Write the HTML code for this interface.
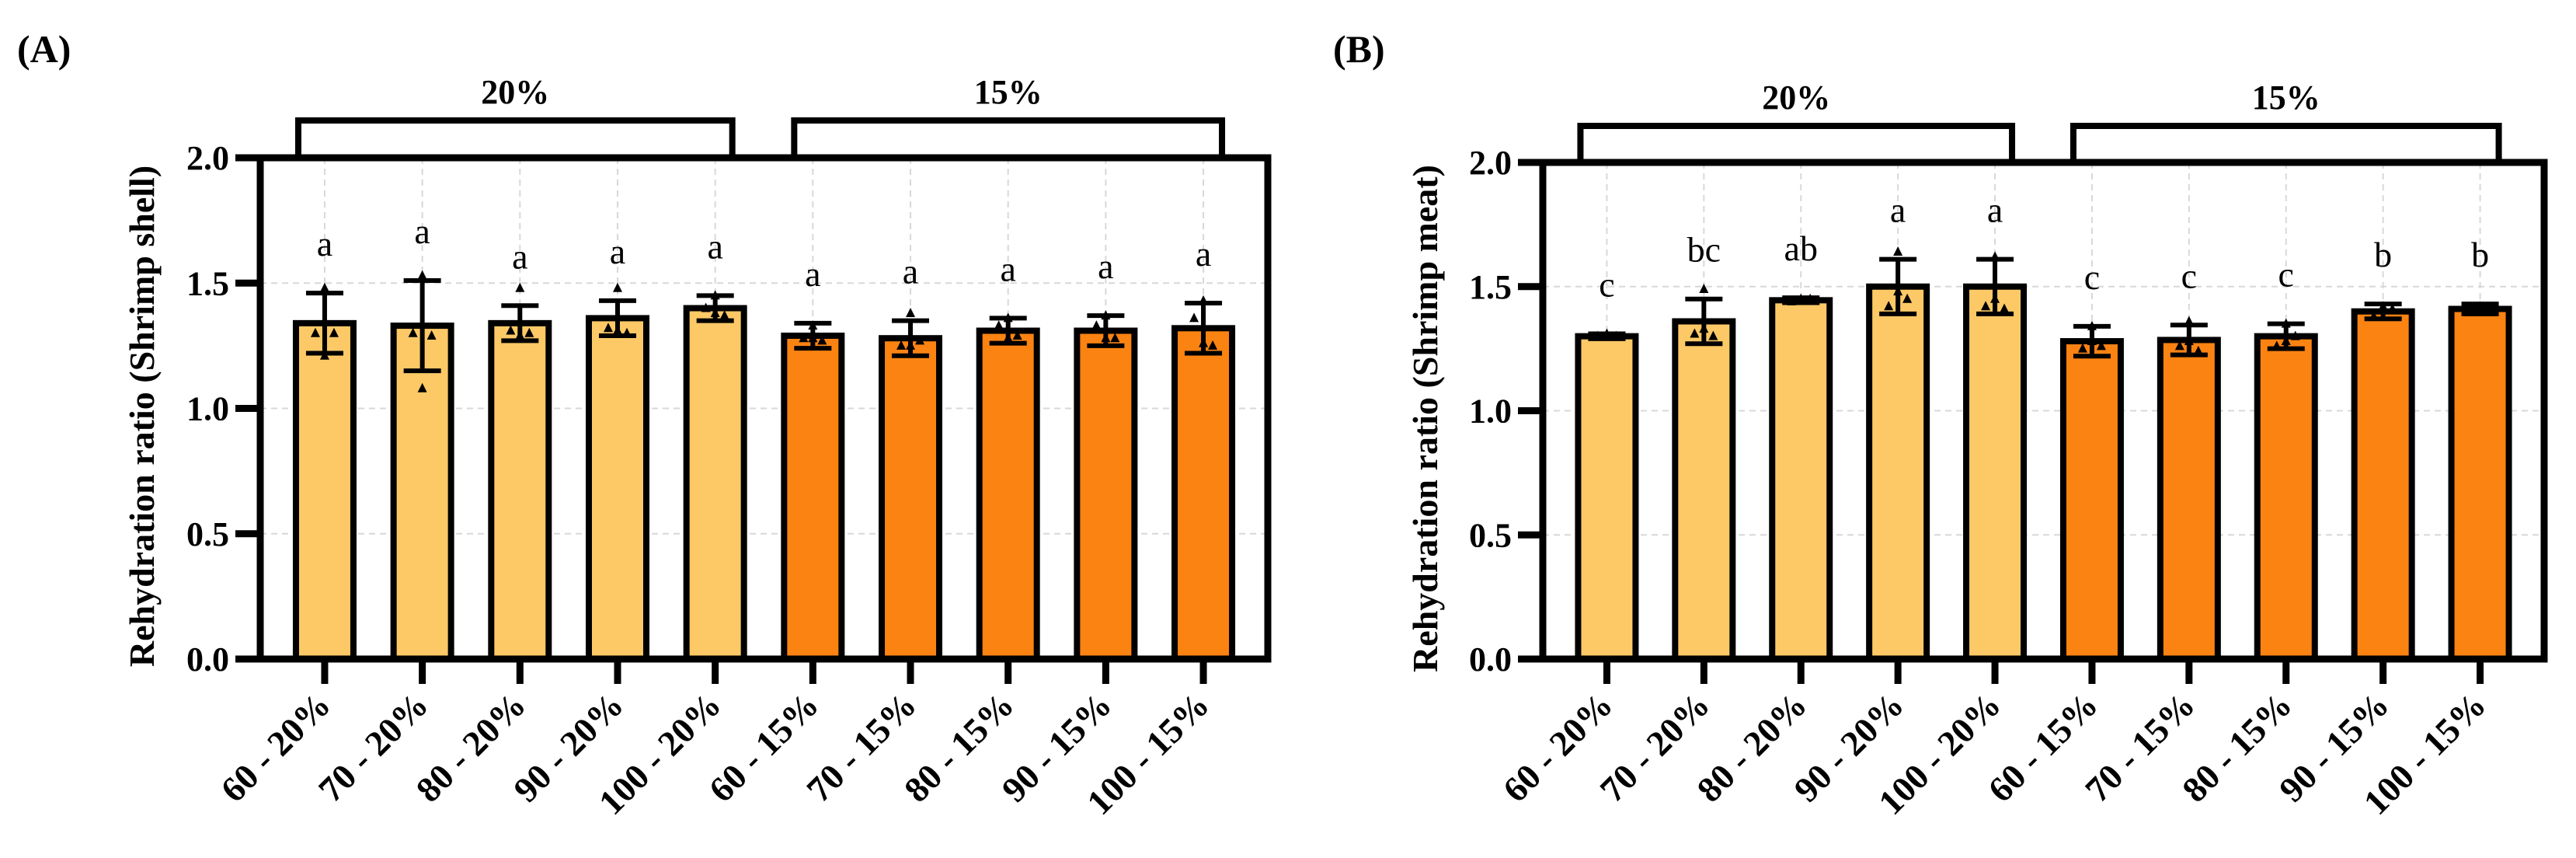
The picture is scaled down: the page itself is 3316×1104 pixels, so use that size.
<!DOCTYPE html>
<html><head><meta charset="utf-8">
<style>
html,body{margin:0;padding:0;background:#fff;}
svg{display:block;font-family:"Liberation Serif",serif;}
</style></head>
<body>
<svg id="fig" width="3316" height="1104" viewBox="0 0 3316 1104" xmlns="http://www.w3.org/2000/svg"></svg>
<script>
const categories = ["60 - 20%","70 - 20%","80 - 20%","90 - 20%","100 - 20%","60 - 15%","70 - 15%","80 - 15%","90 - 15%","100 - 15%"];
const groupLabels = ["20%","15%"];
const yTicks = [0,0.5,1.0,1.5,2.0];
const yTickLabels = ["0.0","0.5","1.0","1.5","2.0"];
const shellMeans = [1.34,1.33,1.34,1.36,1.40,1.29,1.28,1.31,1.31,1.32];
const shellSD = [0.12,0.18,0.07,0.07,0.05,0.05,0.07,0.05,0.06,0.10];
const shellLetters = ["a","a","a","a","a","a","a","a","a","a"];
const shellPoints = [[1.48,1.30,1.30,1.21],[1.53,1.30,1.29,1.08],[1.48,1.31,1.30,1.29],[1.48,1.32,1.30,1.31],[1.45,1.40,1.37,1.38],[1.33,1.28,1.27,1.28],[1.38,1.25,1.27,1.25],[1.36,1.33,1.29,1.28],[1.37,1.33,1.28,1.28],[1.43,1.36,1.25,1.26]];
const meatMeans = [1.30,1.36,1.445,1.50,1.50,1.28,1.285,1.30,1.40,1.41];
const meatSD = [0.01,0.09,0.01,0.11,0.11,0.06,0.06,0.05,0.03,0.02];
const meatLetters = ["c","bc","ab","a","a","c","c","c","b","b"];
const meatPoints = [[1.31,1.30,1.30],[1.49,1.31,1.30,1.33],[1.45,1.44,1.45],[1.64,1.42,1.45,1.48],[1.62,1.42,1.41,1.45],[1.34,1.25,1.26,1.28],[1.36,1.26,1.24,1.28],[1.35,1.26,1.30,1.28],[1.42,1.38,1.41,1.41],[1.42,1.41,1.41]];

const NS="http://www.w3.org/2000/svg";
const svg=document.getElementById("fig");
function mk(tag,attrs,parent,text){
  const e=document.createElementNS(NS,tag);
  for(const k in attrs)e.setAttribute(k,attrs[k]);
  if(text!==undefined)e.textContent=text;
  (parent||svg).appendChild(e);return e;
}
function panel(cfg){
  const g=mk("g",{});
  
  
  const n=categories.length;
  const w=cfg.x1-cfg.x0, step=w/(n+0.32);
  const xC=i=>cfg.x0+(i+0.66)*step;
  const yS=v=>cfg.yZero-(cfg.yZero-cfg.yTop)*v/2;
  const pl=mk("text",{x:cfg.labelX,y:80,"font-size":50,"font-weight":"bold"},g,cfg.letter);
  
  
  yTicks.forEach(t=>{ if(t>0&&t<2){
    const l=mk("line",{x1:cfg.x0,x2:cfg.x1,y1:yS(t),y2:yS(t),stroke:"#d8d8d8","stroke-width":2,"stroke-dasharray":"8 6"},g);
    
    
  }});
  for(let i=0;i<n;i++){
    const l=mk("line",{x1:xC(i),x2:xC(i),y1:cfg.yTop,y2:cfg.yZero,stroke:"#d8d8d8","stroke-width":2,"stroke-dasharray":"8 6"},g);
    
    
  }
  const bw=74;
  for(let i=0;i<n;i++){
    const v=cfg.means[i];
    const r=mk("rect",{x:xC(i)-bw/2,y:yS(v),width:bw,height:cfg.yZero-yS(v),fill:i<5?"#FCC966":"#FB8312",stroke:"#000","stroke-width":8},g);
    
    
    cfg.points[i].forEach((p,k)=>{
      const px=xC(i)+[-0,-12,12,0][k%4]*(k>0?1:0), py=yS(p);
      const t=mk("path",{d:`M${px-6},${py+5} L${px+6},${py+5} L${px},${py-7} Z`,fill:"#000"},g);
      
      
    });
    const top=yS(v+cfg.sd[i]), bot=yS(v-cfg.sd[i]);
    const e=mk("path",{d:`M${xC(i)},${top} L${xC(i)},${bot} M${xC(i)-24},${top} L${xC(i)+24},${top} M${xC(i)-24},${bot} L${xC(i)+24},${bot}`,stroke:"#000","stroke-width":6,fill:"none"},g);
    
    
    const lt=mk("text",{x:xC(i),y:top-48,"font-size":46,"text-anchor":"middle"},g,cfg.letters[i]);
    
    
  }
  const f=mk("path",{d:`M${cfg.x0},${cfg.yTop} L${cfg.x1},${cfg.yTop} L${cfg.x1},${cfg.yZero} L${cfg.x0},${cfg.yZero} Z`,fill:"none",stroke:"#000","stroke-width":9},g);
  
  
  yTicks.forEach((t,k)=>{
    const l=mk("line",{x1:cfg.x0-32,x2:cfg.x0,y1:yS(t),y2:yS(t),stroke:"#000","stroke-width":9},g);
    
    
    const tx=mk("text",{x:cfg.x0-40,y:yS(t)+15,"font-size":44,"font-weight":"bold","text-anchor":"end"},g,yTickLabels[k]);
    
    
  });
  for(let i=0;i<n;i++){
    const l=mk("line",{x1:xC(i),x2:xC(i),y1:cfg.yZero,y2:cfg.yZero+32,stroke:"#000","stroke-width":9},g);
    
    
    const ax=xC(i)+10, ay=cfg.yZero+62;
    const tx=mk("text",{x:ax,y:ay,"font-size":46,"font-weight":"bold","text-anchor":"end",transform:`rotate(-45 ${ax} ${ay})`},g,categories[i]);
    
    
  }
  const ty=(cfg.yTop+cfg.yZero)/2+10;
  const yt=mk("text",{x:cfg.titleX,y:ty,"font-size":46,"font-weight":"bold","text-anchor":"middle",transform:`rotate(-90 ${cfg.titleX} ${ty})`},g,cfg.title);
  
  
  const br=[[xC(0)-34,xC(4)+22],[xC(5)-24,xC(9)+24]];
  br.forEach((b,k)=>{
    const p=mk("path",{d:`M${b[0]},${cfg.yTop} L${b[0]},${cfg.brY} L${b[1]},${cfg.brY} L${b[1]},${cfg.yTop}`,fill:"none",stroke:"#000","stroke-width":8},g);
    
    
    const t=mk("text",{x:(b[0]+b[1])/2,y:cfg.brY-22,"font-size":44,"font-weight":"bold","text-anchor":"middle"},g,groupLabels[k]);
    
    
  });
}
panel({name:"panel-a-shell",letter:"(A)",labelX:22,x0:335,x1:1632,yTop:203,yZero:848,brY:155,titleX:198,
  title:"Rehydration ratio (Shrimp shell)",means:shellMeans,sd:shellSD,letters:shellLetters,points:shellPoints});
panel({name:"panel-b-meat",letter:"(B)",labelX:1716,x0:1986,x1:3275,yTop:209,yZero:848,brY:162,titleX:1850,
  title:"Rehydration ratio (Shrimp meat)",means:meatMeans,sd:meatSD,letters:meatLetters,points:meatPoints});
</script>
</body></html>
